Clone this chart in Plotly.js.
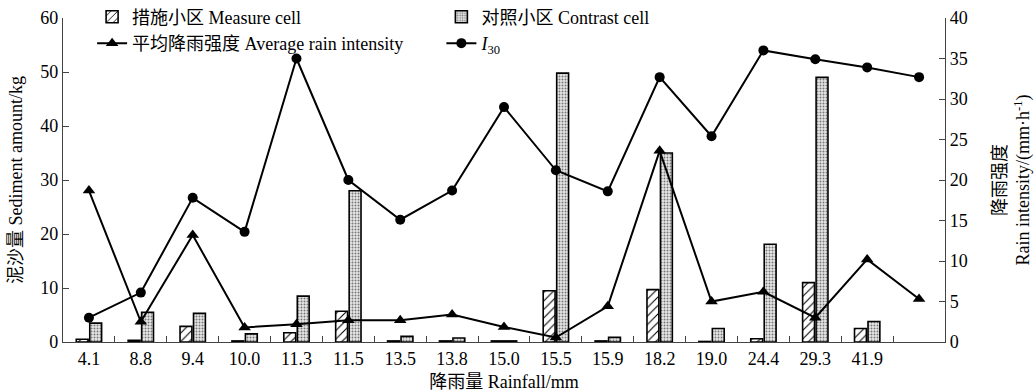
<!DOCTYPE html>
<html>
<head>
<meta charset="utf-8">
<script src="https://cdn.plot.ly/plotly-3.0.1.min.js"></script>
<style>
html,body{margin:0;padding:0;background:#fff;}
#chart{width:1035px;height:392px;}
</style>
</head>
<body>
<div id="chart"></div>
<script>
// Rainfall categories (17th event has no label in the source)
const rainfall = ["4.1","8.8","9.4","10.0","11.3","11.5","13.5","13.8","15.0","15.5","15.9","18.2","19.0","24.4","29.3","41.9"," "];
// Sediment amount, kg
const measureCell  = [0.5, 0.3, 2.9, 0.2, 1.7, 5.7, 0.2, 0.2, 0.2, 9.5, 0.2, 9.7, 0.1, 0.6, 11.0, 2.5, null];
const contrastCell = [3.5, 5.5, 5.3, 1.5, 8.5, 28.0, 1.05, 0.75, 0.2, 49.8, 0.85, 35.0, 2.5, 18.1, 49.0, 3.8, null];
// Rain intensity, mm/h
const avgIntensity = [18.7, 2.5, 13.2, 1.8, 2.2, 2.7, 2.7, 3.4, 1.85, 0.55, 4.4, 23.6, 5.0, 6.2, 3.0, 10.2, 5.3];
const i30          = [3.0, 6.1, 17.8, 13.6, 35.0, 20.0, 15.1, 18.7, 29.0, 21.2, 18.6, 32.7, 25.4, 36.0, 34.9, 33.9, 32.7];

const FONT = 'Times New Roman, Liberation Serif, Tinos, DejaVu Serif, Noto Sans CJK SC, serif';
const AX = '#444';

const traces = [
  {
    type: 'bar', name: '措施小区 Measure cell', x: rainfall, y: measureCell, yaxis: 'y', legend: 'legend',
    marker: {color: '#ffffff', line: {color: '#000', width: 1.6},
             pattern: {shape: '/', size: 6, solidity: 0.18, fgcolor: '#000', bgcolor: '#fff'}}
  },
  {
    type: 'bar', name: '对照小区 Contrast cell', x: rainfall, y: contrastCell, yaxis: 'y', legend: 'legend2',
    marker: {color: '#dddddd', line: {color: '#000', width: 1.6},
             pattern: {shape: '.', size: 3, solidity: 0.35, fgcolor: '#777', bgcolor: '#e8e8e8'}}
  },
  {
    type: 'scatter', mode: 'lines+markers', name: '平均降雨强度 Average rain intensity',
    x: rainfall, y: avgIntensity, yaxis: 'y2', legend: 'legend',
    line: {color: '#000', width: 2}, marker: {symbol: 'triangle-up', size: 11, color: '#000'}
  },
  {
    type: 'scatter', mode: 'lines+markers', name: '<i>I</i><sub>30</sub>',
    x: rainfall, y: i30, yaxis: 'y2', legend: 'legend2',
    line: {color: '#000', width: 2}, marker: {symbol: 'circle', size: 10, color: '#000'}
  }
];

const legendBase = {
  orientation: 'v', xanchor: 'left', y: 1.06, yanchor: 'top',
  bgcolor: 'rgba(0,0,0,0)', font: {family: FONT, size: 18}, tracegroupgap: 0,
  traceorder: 'normal'
};

const layout = {
  width: 1035, height: 392,
  margin: {l: 63, r: 90, t: 18, b: 50, autoexpand: false},
  paper_bgcolor: '#fff', plot_bgcolor: '#fff',
  font: {family: FONT, size: 18, color: '#000'},
  barmode: 'group', bargap: 0.48, bargroupgap: 0.12,
  showlegend: true,
  legend: Object.assign({}, legendBase, {x: 0.033}),
  legend2: Object.assign({}, legendBase, {x: 0.429}),
  xaxis: {
    type: 'category', categoryorder: 'array', categoryarray: rainfall,
    range: [-0.5, 16.5], tickson: 'boundaries', ticks: 'inside', ticklen: 6, tickcolor: AX,
    showline: true, linecolor: AX, linewidth: 1.2, showgrid: false, zeroline: false,
    tickfont: {family: FONT, size: 18},
    title: {text: '降雨量 Rainfall/mm', font: {family: FONT, size: 18}, standoff: 9}
  },
  yaxis: {
    range: [0, 60], dtick: 10, ticks: 'inside', ticklen: 6, tickcolor: AX,
    showline: true, linecolor: AX, linewidth: 1.2, showgrid: false, zeroline: false,
    tickfont: {family: FONT, size: 18},
    title: {text: '泥沙量 Sediment amount/kg', font: {family: FONT, size: 18}, standoff: 13}
  },
  yaxis2: {
    overlaying: 'y', side: 'right', range: [0, 40], dtick: 5,
    ticks: 'inside', ticklen: 6, tickcolor: AX,
    showline: true, linecolor: AX, linewidth: 1.2, showgrid: false, zeroline: false,
    tickfont: {family: FONT, size: 18},
    title: {text: '降雨强度<br>Rain intensity/(mm·h<sup>-1</sup>)', font: {family: FONT, size: 18}, standoff: 26}
  }
};

Plotly.newPlot('chart', traces, layout, {displayModeBar: false, staticPlot: true});
</script>
</body>
</html>
